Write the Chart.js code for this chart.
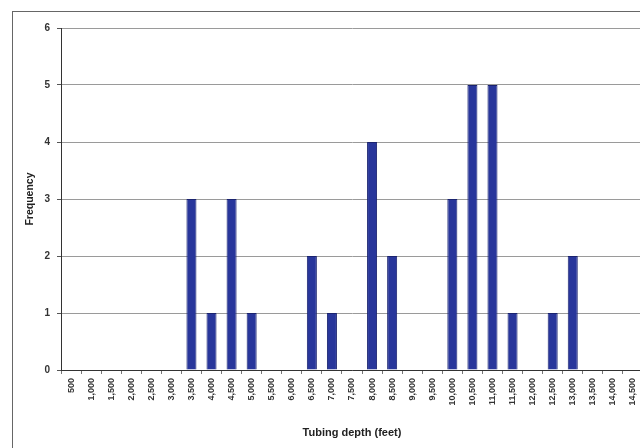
<!DOCTYPE html>
<html>
<head>
<meta charset="utf-8">
<script src="https://cdn.jsdelivr.net/npm/chart.js@4"></script>
<style>
  html, body { margin: 0; padding: 0; background: #fff; overflow: hidden; }
  #wrap { position: relative; width: 640px; height: 448px; overflow: hidden; }
  #frame { position: absolute; left: 12px; top: 11px; width: 700px; height: 500px;
           border-left: 1px solid #666; border-top: 1px solid #666; }
  #box { position: absolute; left: 0; top: 0; width: 660px; height: 448px; }
</style>
</head>
<body>
<div id="wrap">
  <div id="frame"></div>
  <div id="box"><canvas id="barChart"></canvas></div>
</div>
<script>
// tubing depth classes (feet)
const depthLabels = ['500', '1,000', '1,500', '2,000', '2,500', '3,000', '3,500', '4,000',
    '4,500', '5,000', '5,500', '6,000', '6,500', '7,000', '7,500', '8,000', '8,500',
    '9,000', '9,500', '10,000', '10,500', '11,000', '11,500', '12,000', '12,500',
    '13,000', '13,500', '14,000', '14,500'];
const frequency = [0, 0, 0, 0, 0, 0, 3, 1, 3, 1, 0, 0, 2, 1, 0, 4, 2, 0, 0, 3, 5, 5, 1, 0, 1, 2, 0, 0, 0];
const yTicks = [0, 1, 2, 3, 4, 5, 6];

const ctx = document.getElementById('barChart').getContext('2d');
const barChart = new Chart(ctx, {
    type: 'bar',
    data: {
        labels: depthLabels,
        datasets: [{
            label: 'Frequency',
            data: frequency,
            backgroundColor: '#28369b',
            borderColor: '#1a236f',
            borderWidth: 1,
            categoryPercentage: 1,
            barPercentage: 0.5,
        }],
    },
    options: {
        responsive: true,
        maintainAspectRatio: false,
        animation: false,
        layout: { padding: { left: 0, top: 28, right: 17, bottom: 0 } },
        plugins: { legend: { display: false }, tooltip: { enabled: false } },
        scales: {
            x: {
                grid: { drawOnChartArea: false, drawTicks: true, tickLength: 4, color: '#777', offset: true },
                border: { color: '#333', width: 1 },
                ticks: {
                    minRotation: 90, maxRotation: 90, autoSkip: false, padding: 4,
                    color: '#333', font: { family: 'Liberation Sans', size: 9, weight: 'bold' },
                },
                title: {
                    display: true, text: 'Tubing depth (feet)', color: '#222',
                    font: { family: 'Liberation Sans', size: 11, weight: 'bold' },
                    padding: { top: 0, bottom: 8 },
                },
                afterFit: (s) => { s.height = 78; },
            },
            y: {
                min: 0, max: 6,
                afterBuildTicks: (s) => { s.ticks = yTicks.map((v) => ({ value: v })); },
                grid: { color: '#9a9a9a', tickLength: 4, tickColor: '#555' },
                border: { color: '#333', width: 1 },
                ticks: { color: '#333', padding: 7, font: { family: 'Liberation Sans', size: 10, weight: 'bold' } },
                title: {
                    display: true, text: 'Frequency', color: '#222',
                    font: { family: 'Liberation Sans', size: 10.5, weight: 'bold' },
                    padding: { top: 24, bottom: 0 },
                },
                afterFit: (s) => { s.width = 61; },
            },
        },
    },
});
</script>
</body>
</html>
